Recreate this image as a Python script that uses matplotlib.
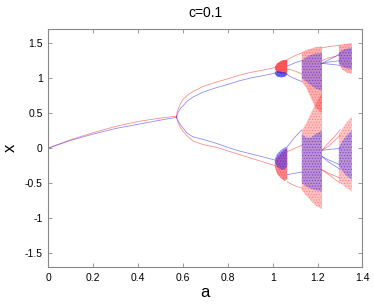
import matplotlib
matplotlib.use('Agg')
import matplotlib.pyplot as plt

plt.rcParams['font.family'] = ['Liberation Sans', 'DejaVu Sans']
plt.rcParams['hatch.linewidth'] = 0.5

RED = '#ff2020'
BLUE = '#2020ff'

# ---- period-1 branch ----
a_p1 = [0.0, 0.1, 0.2, 0.3, 0.4, 0.5, 0.572]
x_p1_red = [0.0, 0.12, 0.22, 0.31, 0.38, 0.43, 0.456]
x_p1_blue = [0.0, 0.11, 0.20, 0.28, 0.34, 0.40, 0.44]

# ---- period-2 branches ----
a_p2 = [0.572, 0.574, 0.58, 0.59, 0.602, 0.62, 0.646, 0.69, 0.75, 0.8, 0.85, 0.9, 0.95, 1.01]
x_p2_up_red = [0.456, 0.51, 0.565, 0.64, 0.70, 0.755, 0.81, 0.88, 0.944, 0.99, 1.04, 1.08, 1.11, 1.15]
x_p2_up_blue = [0.44, 0.47, 0.517, 0.57, 0.61, 0.675, 0.73, 0.80, 0.864, 0.91, 0.96, 1.00, 1.03, 1.07]
x_p2_lo_red = [0.456, 0.41, 0.35, 0.29, 0.235, 0.17, 0.10, 0.05, 0.01, -0.04, -0.09, -0.14, -0.19, -0.25]
x_p2_lo_blue = [0.44, 0.42, 0.38, 0.33, 0.28, 0.21, 0.16, 0.125, 0.067, 0.01, -0.04, -0.08, -0.12, -0.17]

# ---- branches between chaotic bands ----
a_mid1 = [1.065, 1.08, 1.10, 1.13]
mid1_red = [[1.26, 1.29, 1.32, 1.36], [1.13, 1.12, 1.10, 1.06],
            [-0.05, -0.03, 0.0, 0.04], [-0.48, -0.51, -0.54, -0.57]]
mid1_blue = [[1.17, 1.19, 1.22, 1.25], [1.05, 1.02, 0.99, 0.95],
             [0.02, 0.08, 0.16, 0.26], [-0.38, -0.37, -0.36, -0.34]]

a_mid2 = [1.22, 1.25, 1.28, 1.30]
mid2_red = [[1.43, 1.45, 1.46, 1.47], [1.25, 1.29, 1.31, 1.33],
            [-0.03, 0.08, 0.18, 0.26], [-0.03, 0.03, 0.12, 0.18],
            [-0.31, -0.36, -0.40, -0.43], [-0.31, -0.38, -0.45, -0.50]]
mid2_blue = [[1.21, 1.26, 1.31, 1.35], [1.21, 1.23, 1.24, 1.25],
             [1.21, 1.20, 1.19, 1.18], [-0.03, -0.02, -0.01, 0.0],
             [-0.12, -0.17, -0.21, -0.24], [-0.12, -0.20, -0.26, -0.30]]

# ---- chaotic bands (envelopes) ----
a_bandA = [1.01, 1.02, 1.04, 1.055, 1.065]
bandA_up_red = ([1.13, 1.08, 1.06, 1.06, 1.08], [1.16, 1.21, 1.25, 1.26, 1.26])
bandA_up_blue = ([1.06, 1.02, 1.01, 1.02, 1.05], [1.09, 1.10, 1.09, 1.08, 1.07])
bandA_lo_red = ([-0.27, -0.37, -0.44, -0.47, -0.44], [-0.20, -0.13, -0.06, -0.02, 0.0])
bandA_lo_blue = ([-0.20, -0.27, -0.31, -0.30, -0.25], [-0.15, -0.08, -0.02, 0.01, 0.02])

a_bandB = [1.13, 1.15, 1.17, 1.19, 1.22]
bandB_up_red = ([0.95, 0.86, 0.72, 0.58, 0.50], [1.37, 1.40, 1.42, 1.44, 1.45])
bandB_lo_red = ([-0.60, -0.68, -0.75, -0.82, -0.87], [0.25, 0.36, 0.50, 0.62, 0.80])
bandB_up_blue = ([1.00, 0.95, 0.90, 0.85, 0.82], [1.25, 1.30, 1.33, 1.35, 1.36])
bandB_lo_blue = ([-0.50, -0.55, -0.58, -0.60, -0.62], [0.20, 0.15, 0.15, 0.20, 0.25])

a_bandC = [1.295, 1.31, 1.33, 1.353]
bandC_up_red = ([1.20, 1.12, 1.08, 1.06], [1.47, 1.48, 1.49, 1.50])
bandC_up_blue = ([1.22, 1.16, 1.14, 1.13], [1.36, 1.40, 1.42, 1.43])
bandC_lo_red = ([-0.48, -0.52, -0.57, -0.62], [0.20, 0.28, 0.37, 0.45])
bandC_lo_blue = ([-0.25, -0.33, -0.40, -0.45], [0.0, 0.10, 0.18, 0.25])

fig = plt.figure(figsize=(3.74, 3.06), dpi=100)
ax = fig.add_axes([0.129, 0.127, 0.840, 0.778])

lw = 0.55
def band(a, lohi, color, alpha_face):
    ax.fill_between(a, lohi[0], lohi[1], facecolor=color, alpha=alpha_face,
                    linewidth=0)
    ax.fill_between(a, lohi[0], lohi[1], facecolor='none', edgecolor=color,
                    hatch='......', linewidth=0, alpha=0.35)

ax.plot(a_p1, x_p1_red, color=RED, lw=lw, alpha=0.55)
ax.plot(a_p1, x_p1_blue, color=BLUE, lw=lw, alpha=0.55)
for ys, c in [(x_p2_up_red, RED), (x_p2_lo_red, RED),
              (x_p2_up_blue, BLUE), (x_p2_lo_blue, BLUE)]:
    ax.plot(a_p2, ys, color=c, lw=lw, alpha=0.55)
for ys in mid1_red:
    ax.plot(a_mid1, ys, color=RED, lw=lw, alpha=0.55)
for ys in mid1_blue:
    ax.plot(a_mid1, ys, color=BLUE, lw=lw, alpha=0.55)
for ys in mid2_red:
    ax.plot(a_mid2, ys, color=RED, lw=lw, alpha=0.55)
for ys in mid2_blue:
    ax.plot(a_mid2, ys, color=BLUE, lw=lw, alpha=0.55)

band(a_bandA, bandA_up_red, RED, 0.75)
band(a_bandA, bandA_lo_red, RED, 0.55)
band(a_bandA, bandA_up_blue, BLUE, 0.7)
band(a_bandA, bandA_lo_blue, BLUE, 0.45)
band(a_bandB, bandB_up_red, RED, 0.35)
band(a_bandB, bandB_lo_red, RED, 0.28)
band(a_bandB, bandB_up_blue, BLUE, 0.3)
band(a_bandB, bandB_lo_blue, BLUE, 0.3)
band(a_bandC, bandC_up_red, RED, 0.35)
band(a_bandC, bandC_lo_red, RED, 0.25)
band(a_bandC, bandC_up_blue, BLUE, 0.35)
band(a_bandC, bandC_lo_blue, BLUE, 0.3)

ax.set_xlim(0, 1.4)
ax.set_ylim(-1.7, 1.7)
ax.set_xticks([0, 0.2, 0.4, 0.6, 0.8, 1, 1.2, 1.4])
ax.set_xticklabels(['0', '0.2', '0.4', '0.6', '0.8', '1', '1.2', '1.4'])
ax.set_yticks([-1.5, -1, -0.5, 0, 0.5, 1, 1.5])
ax.set_yticklabels(['-1.5', '-1', '-0.5', '0', '0.5', '1', '1.5'])
ax.tick_params(direction='in', length=3, width=0.6, color='#888888',
               labelsize=7.5, top=True, right=True, pad=4)
for s in ax.spines.values():
    s.set_color('#888888')
    s.set_linewidth(0.8)
ax.set_title('c=0.1', fontsize=10, pad=9)
ax.set_xlabel('a', fontsize=12, labelpad=2)
ax.set_ylabel('x', fontsize=12, labelpad=5)

fig.savefig('out.png', dpi=100)
